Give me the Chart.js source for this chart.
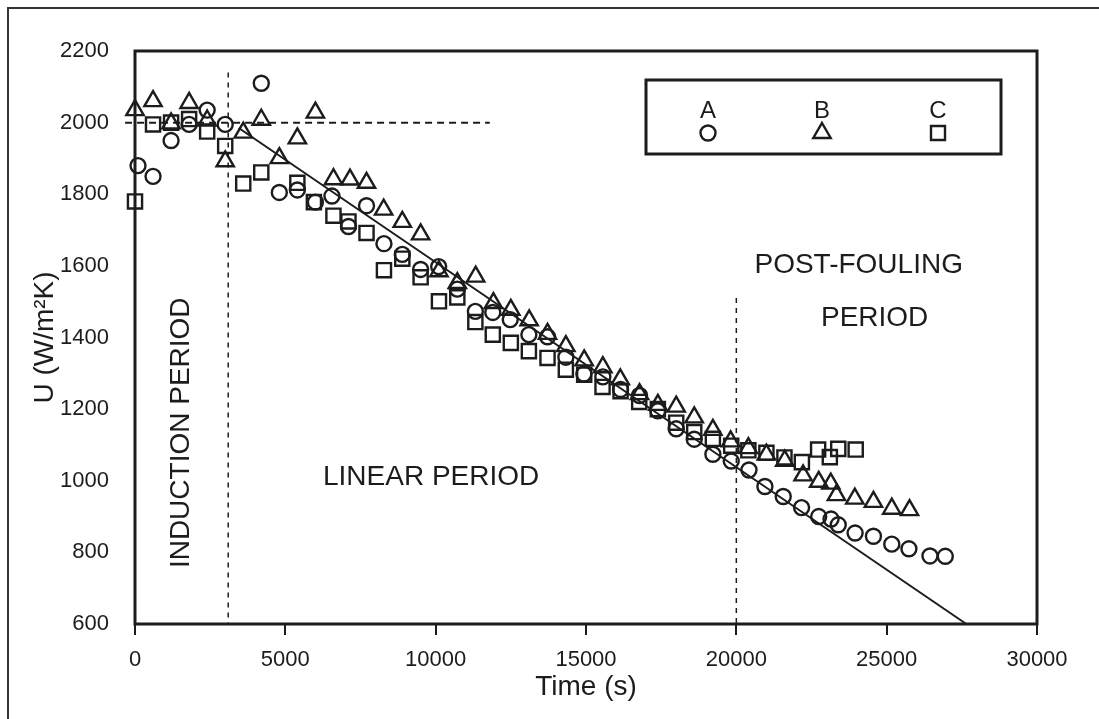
<!DOCTYPE html>
<html>
<head>
<meta charset="utf-8">
<script src="https://cdn.jsdelivr.net/npm/chart.js@4.4.1/dist/chart.umd.min.js"></script>
<style>
  body { margin: 0; background: #fff; }
  #wrap { width: 1099px; height: 719px; }
</style>
</head>
<body>
<div id="wrap"><canvas id="chart" width="1099" height="719"></canvas></div>
<script>
// U vs time for three runs
const timeA = [100, 600, 1200, 1800, 2400, 3000, 4200, 4800, 5400, 6000, 6550, 7100, 7700, 8280, 8890, 9500, 10100, 10720, 11320, 11900, 12480, 13100, 13720, 14330, 14930, 15560, 16150, 16780, 17390, 18000, 18600, 19220, 19830, 20420, 20950, 21560, 22170, 22740, 23150, 23390, 23950, 24560, 25170, 25740, 26440, 26950];
const uA = [1880, 1850, 1950, 1995, 2035, 1995, 2110, 1805, 1812, 1778, 1795, 1710, 1768, 1662, 1632, 1590, 1598, 1535, 1473, 1470, 1450, 1408, 1402, 1345, 1298, 1290, 1255, 1238, 1195, 1145, 1116, 1074, 1055, 1030, 984, 956, 925, 900, 893, 877, 854, 845, 823, 810, 790, 789];

const timeB = [0, 600, 1200, 1800, 2400, 3000, 3600, 4200, 4800, 5400, 6000, 6600, 7150, 7700, 8270, 8890, 9500, 10110, 10720, 11330, 11920, 12500, 13110, 13720, 14330, 14940, 15560, 16140, 16780, 17390, 18000, 18600, 19220, 19810, 20400, 21000, 21610, 22220, 22740, 23140, 23330, 23940, 24560, 25170, 25760];
const uB = [2035, 2060, 1998, 2055, 2006, 1892, 1972, 2008, 1901, 1956, 2028, 1842, 1841, 1832, 1757, 1723, 1688, 1585, 1552, 1570, 1496, 1477, 1448, 1410, 1376, 1336, 1317, 1283, 1242, 1212, 1207, 1177, 1142, 1110, 1091, 1073, 1056, 1015, 997, 992, 960, 950, 941, 922, 918];

const timeC = [0, 600, 1200, 1800, 2400, 3000, 3600, 4200, 5400, 5950, 6600, 7100, 7700, 8280, 8890, 9500, 10110, 10720, 11320, 11900, 12500, 13100, 13720, 14330, 14940, 15550, 16150, 16770, 17390, 18000, 18600, 19220, 19830, 20400, 21000, 21600, 22180, 22720, 23110, 23390, 23970];
const uC = [1780, 1995, 2000, 2010, 1975, 1935, 1830, 1861, 1832, 1778, 1740, 1724, 1692, 1588, 1620, 1568, 1501, 1512, 1443, 1408, 1385, 1362, 1343, 1310, 1296, 1262, 1250, 1220, 1200, 1162, 1136, 1117, 1098, 1085, 1078, 1065, 1052, 1087, 1066, 1089, 1087];

// linear-period fit and period markers
const fitTime = [3450, 27650];
const fitU = [1985, 600];
const inductionLevelTime = [-330, 11800];
const inductionLevelU = [2000, 2000];
const inductionEndTime = [3100, 3100];
const inductionEndU = [2140, 600];
const postFoulingTime = [20000, 20000];
const postFoulingU = [1510, 600];

const xTicks = [0, 5000, 10000, 15000, 20000, 25000, 30000];
const yTicks = [600, 800, 1000, 1200, 1400, 1600, 1800, 2000, 2200];

const seriesNames = ['A', 'B', 'C'];
const periodLabels = [
  { text: 'LINEAR PERIOD', t: 9850, u: 1010, rot: 0 },
  { text: 'POST-FOULING', t: 24070, u: 1603, rot: 0 },
  { text: 'PERIOD', t: 24600, u: 1455, rot: 0 },
  { text: 'INDUCTION PERIOD', t: 1530, u: 1134, rot: -Math.PI / 2 }
];

const ink = '#1c1c1c';
const FONT = "'Liberation Sans', Arial, Helvetica, sans-serif";

function pts(xs, ys) {
  return xs.map((x, i) => ({ x: x, y: ys[i] }));
}

function markerSet(label, xs, ys, style, r) {
  return {
    label: label,
    data: pts(xs, ys),
    pointStyle: style,
    pointRadius: r,
    pointBorderWidth: 2.4,
    borderColor: ink,
    backgroundColor: 'rgba(0,0,0,0)',
    showLine: false,
    clip: false
  };
}

function lineSet(xs, ys, width, dash) {
  return {
    data: pts(xs, ys),
    showLine: true,
    pointRadius: 0,
    borderWidth: width,
    borderDash: dash,
    borderColor: ink,
    clip: false
  };
}

const paper = {
  id: 'paper',
  beforeDraw: (chart) => {
    const ctx = chart.ctx;
    ctx.save();
    ctx.fillStyle = '#ffffff';
    ctx.fillRect(0, 0, chart.width, chart.height);
    // scanned page frame
    ctx.strokeStyle = '#333';
    ctx.lineWidth = 2;
    ctx.beginPath();
    ctx.moveTo(8, chart.height);
    ctx.lineTo(8, 8);
    ctx.lineTo(chart.width, 8);
    ctx.stroke();
    ctx.restore();
  },
  afterDatasetsDraw: (chart) => {
    const ctx = chart.ctx;
    const a = chart.chartArea;
    const xs = chart.scales.x, ys = chart.scales.y;
    ctx.save();
    ctx.strokeStyle = ink;
    ctx.lineWidth = 3;
    ctx.strokeRect(a.left, a.top, a.right - a.left, a.bottom - a.top);

    // period labels
    ctx.fillStyle = ink;
    ctx.font = '28px ' + FONT;
    ctx.textAlign = 'center';
    ctx.textBaseline = 'middle';
    periodLabels.forEach(p => {
      ctx.save();
      ctx.translate(xs.getPixelForValue(p.t), ys.getPixelForValue(p.u));
      ctx.rotate(p.rot);
      ctx.fillText(p.text, 0, 0);
      ctx.restore();
    });

    // legend box
    const bx = 646, by = 80, bw = 355, bh = 74;
    ctx.lineWidth = 3;
    ctx.strokeRect(bx, by, bw, bh);
    ctx.font = '24px ' + FONT;
    const cols = [708, 822, 938];
    const styles = ['circle', 'triangle', 'rect'];
    ctx.lineWidth = 2.4;
    seriesNames.forEach((name, i) => {
      const cx = cols[i], cy = 133;
      ctx.fillText(name, cx, 111);
      ctx.beginPath();
      if (styles[i] === 'circle') {
        ctx.arc(cx, cy, 7.5, 0, Math.PI * 2);
      } else if (styles[i] === 'triangle') {
        ctx.moveTo(cx, cy - 10);
        ctx.lineTo(cx + 8.7, cy + 5);
        ctx.lineTo(cx - 8.7, cy + 5);
        ctx.closePath();
      } else {
        ctx.rect(cx - 7, cy - 7, 14, 14);
      }
      ctx.stroke();
    });
    ctx.restore();
  }
};

const ctx = document.getElementById('chart').getContext('2d');
const myChart = new Chart(ctx, {
  type: 'scatter',
  data: {
    datasets: [
      lineSet(fitTime, fitU, 2, []),
      lineSet(inductionLevelTime, inductionLevelU, 2, [7, 5]),
      lineSet(inductionEndTime, inductionEndU, 1.5, [5, 5]),
      lineSet(postFoulingTime, postFoulingU, 1.5, [5, 5]),
      markerSet(seriesNames[0], timeA, uA, 'circle', 7.5),
      markerSet(seriesNames[1], timeB, uB, 'triangle', 10),
      markerSet(seriesNames[2], timeC, uC, 'rect', 10)
    ]
  },
  options: {
    responsive: false,
    animation: false,
    layout: { padding: { left: 0, right: 62, top: 51, bottom: 0 } },
    plugins: {
      legend: { display: false },
      tooltip: { enabled: false }
    },
    scales: {
      x: {
        type: 'linear',
        min: xTicks[0],
        max: xTicks[xTicks.length - 1],
        afterBuildTicks: (s) => { s.ticks = xTicks.map(v => ({ value: v })); },
        afterFit: (s) => { s.height = 95; },
        ticks: { color: ink, font: { family: FONT, size: 22 }, padding: 12, maxRotation: 0, callback: (v) => String(v) },
        grid: { drawOnChartArea: false, drawTicks: true, tickLength: 11, color: ink, lineWidth: 2 },
        border: { display: false },
        title: { display: true, text: 'Time (s)', color: ink, font: { family: FONT, size: 28 }, padding: { top: 0, bottom: 15 } }
      },
      y: {
        type: 'linear',
        min: yTicks[0],
        max: yTicks[yTicks.length - 1],
        afterBuildTicks: (s) => { s.ticks = yTicks.map(v => ({ value: v })); },
        afterFit: (s) => { s.width = 135; },
        ticks: { color: ink, font: { family: FONT, size: 22 }, padding: 26, callback: (v) => String(v) },
        grid: { drawOnChartArea: false, drawTicks: false },
        border: { display: false },
        title: { display: true, text: 'U (W/m²K)', color: ink, font: { family: FONT, size: 28 }, padding: { top: 28, bottom: 0 } }
      }
    }
  },
  plugins: [paper]
});
</script>
</body>
</html>
